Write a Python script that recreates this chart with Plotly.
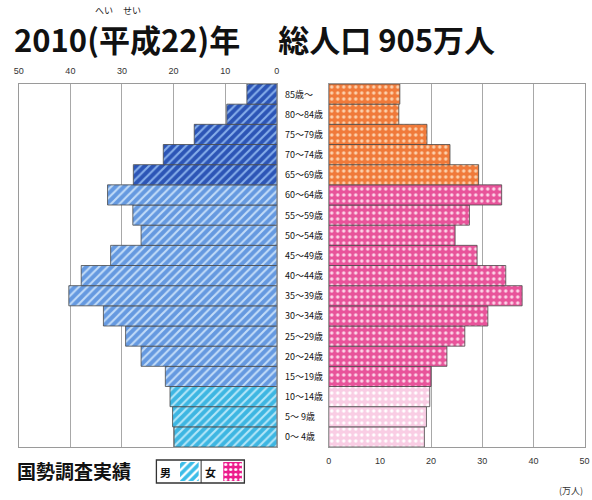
import plotly.graph_objects as go

W, H = 592, 500

# ---- data (万人) ----
age_labels = ["0～ 4歳", "5～ 9歳", "10～14歳", "15～19歳", "20～24歳", "25～29歳",
              "30～34歳", "35～39歳", "40～44歳", "45～49歳", "50～54歳", "55～59歳",
              "60～64歳", "65～69歳", "70～74歳", "75～79歳", "80～84歳", "85歳～"]
male = [19.9, 20.2, 20.7, 21.6, 26.3, 29.3, 33.6, 40.3, 37.9, 32.2, 26.3, 27.9,
        32.8, 27.8, 22.0, 16.0, 9.7, 5.8]
female = [18.7, 19.1, 19.75, 20.0, 23.1, 26.6, 31.1, 37.8, 34.6, 29.0, 24.7, 27.5,
          33.8, 29.3, 23.7, 19.2, 13.7, 13.9]
ticks = [0, 10, 20, 30, 40, 50]

title = "2010(平成22)年　 総人口 905万人"
legend_title = "国勢調査実績"

FONT = "Noto Sans CJK JP"


def px_x(p):
    return p / W


def px_y(p):
    return 1 - p / H


# age groups: 0-14, 15-64, 65+
groups = [(0, 3), (3, 13), (13, 18)]
m_bg = ["#3db6e2", "#6599e0", "#2c55b6"]
m_fg = ["#b4e6f8", "#c2dcf8", "#86aeea"]
f_bg = ["#f9cde4", "#e8539a", "#f07a3a"]
f_fg = ["#ffffff", "#fcd6e8", "#fcd2ae"]

idx = list(range(len(age_labels)))

fig = go.Figure()

for g, (a, b) in enumerate(groups):
    fig.add_trace(go.Bar(
        x=male[a:b], y=idx[a:b], orientation="h", xaxis="x", yaxis="y",
        marker=dict(color=m_bg[g], line=dict(color="#4a4a4a", width=0.8),
                    pattern=dict(shape="/", size=6, solidity=0.35,
                                 fgcolor=m_fg[g], bgcolor=m_bg[g],
                                 fillmode="replace")),
        hoverinfo="skip", showlegend=False))
    fig.add_trace(go.Bar(
        x=female[a:b], y=idx[a:b], orientation="h", xaxis="x2", yaxis="y2",
        marker=dict(color=f_bg[g], line=dict(color="#4a4a4a", width=0.8),
                    pattern=dict(shape=".", size=6, solidity=0.25,
                                 fgcolor=f_fg[g], bgcolor=f_bg[g],
                                 fillmode="replace")),
        hoverinfo="skip", showlegend=False))

# legend swatches
fig.add_trace(go.Bar(x=[0], y=[1], xaxis="x3", yaxis="y3", width=[1],
                     marker=dict(color="#3cbde8", line=dict(width=0),
                                 pattern=dict(shape="/", size=6, solidity=0.4,
                                              fgcolor="#ffffff", bgcolor="#3cbde8",
                                              fillmode="replace")),
                     hoverinfo="skip", showlegend=False))
fig.add_trace(go.Bar(x=[0], y=[1], xaxis="x4", yaxis="y4", width=[1],
                     marker=dict(color="#ec1c8c", line=dict(width=0),
                                 pattern=dict(shape=".", size=5, solidity=0.3,
                                              fgcolor="#ffffff", bgcolor="#ec1c8c",
                                              fillmode="replace")),
                     hoverinfo="skip", showlegend=False))

ydom = [px_y(447), px_y(84)]
axis_common = dict(showgrid=True, gridcolor="#a8a8a8", gridwidth=1,
                   tickvals=ticks, ticktext=[str(t) for t in ticks],
                   tickfont=dict(family="Liberation Sans", size=9, color="#333333"),
                   showline=True, linecolor="#9a9a9a", linewidth=1, mirror=True,
                   zeroline=False, ticks="", fixedrange=True)
fig.update_layout(
    width=W, height=H, margin=dict(l=0, r=0, t=0, b=0),
    paper_bgcolor="white", plot_bgcolor="white",
    bargap=0, barmode="overlay",
    xaxis=dict(domain=[px_x(14), px_x(276.5)], range=[50, 0], side="top",
               anchor="y", ticklabelstandoff=5, **axis_common),
    xaxis2=dict(domain=[px_x(329.3), px_x(589.5)], range=[0, 50], side="bottom",
                anchor="y2", ticklabelstandoff=5, **axis_common),
    yaxis=dict(domain=ydom, range=[-0.5, len(idx) - 0.5], showticklabels=False,
               showgrid=False, zeroline=False, showline=True, linecolor="#9a9a9a",
               mirror=True, anchor="x", fixedrange=True),
    yaxis2=dict(domain=ydom, range=[-0.5, len(idx) - 0.5], showticklabels=False,
                showgrid=False, zeroline=False, showline=True, linecolor="#9a9a9a",
                mirror=True, anchor="x2", fixedrange=True),
    xaxis3=dict(domain=[px_x(178), px_x(197)], range=[-0.5, 0.5], visible=False,
                anchor="y3", fixedrange=True),
    yaxis3=dict(domain=[px_y(481), px_y(462)], range=[0, 1], visible=False,
                anchor="x3", fixedrange=True),
    xaxis4=dict(domain=[px_x(222), px_x(241)], range=[-0.5, 0.5], visible=False,
                anchor="y4", fixedrange=True),
    yaxis4=dict(domain=[px_y(481), px_y(462)], range=[0, 1], visible=False,
                anchor="x4", fixedrange=True),
)

ann = []
for i, lab in enumerate(age_labels):
    ann.append(dict(x=px_x(283), xref="paper", y=i, yref="y", text=lab,
                    xanchor="left", yanchor="middle", showarrow=False,
                    font=dict(family=FONT, size=9, color="#111111")))

ann.append(dict(x=px_x(7), y=px_y(39), xref="paper", yref="paper", text=title,
                xanchor="left", yanchor="middle", showarrow=False,
                font=dict(family=FONT, size=31, color="#111111", weight="bold")))
ann.append(dict(x=px_x(101), y=px_y(10), xref="paper", yref="paper", text="へい",
                xanchor="center", yanchor="middle", showarrow=False,
                font=dict(family=FONT, size=9, color="#222222")))
ann.append(dict(x=px_x(129), y=px_y(10), xref="paper", yref="paper", text="せい",
                xanchor="center", yanchor="middle", showarrow=False,
                font=dict(family=FONT, size=9, color="#222222")))
ann.append(dict(x=px_x(10), y=px_y(470), xref="paper", yref="paper", text=legend_title,
                xanchor="left", yanchor="middle", showarrow=False,
                font=dict(family=FONT, size=19, color="#111111", weight="bold")))
ann.append(dict(x=px_x(163), y=px_y(471.5), xref="paper", yref="paper", text="男",
                xanchor="center", yanchor="middle", showarrow=False,
                font=dict(family=FONT, size=11, color="#111111", weight="bold")))
ann.append(dict(x=px_x(209), y=px_y(471.5), xref="paper", yref="paper", text="女",
                xanchor="center", yanchor="middle", showarrow=False,
                font=dict(family=FONT, size=11, color="#111111", weight="bold")))
ann.append(dict(x=px_x(590), y=px_y(490), xref="paper", yref="paper", text="(万人)",
                xanchor="right", yanchor="middle", showarrow=False,
                font=dict(family=FONT, size=9, color="#333333")))
fig.update_layout(annotations=ann)

fig.update_layout(shapes=[
    dict(type="rect", xref="paper", yref="paper", x0=px_x(154), x1=px_x(243.5),
         y0=px_y(483), y1=px_y(460), line=dict(color="#333333", width=1.3)),
    dict(type="line", xref="paper", yref="paper", x0=px_x(199.5), x1=px_x(199.5),
         y0=px_y(483), y1=px_y(460), line=dict(color="#333333", width=1)),
])

fig.write_html("out.html",
               config={"displayModeBar": False, "staticPlot": True},
               post_script="document.body.style.margin='0';"
                           "document.body.style.overflow='hidden';")
